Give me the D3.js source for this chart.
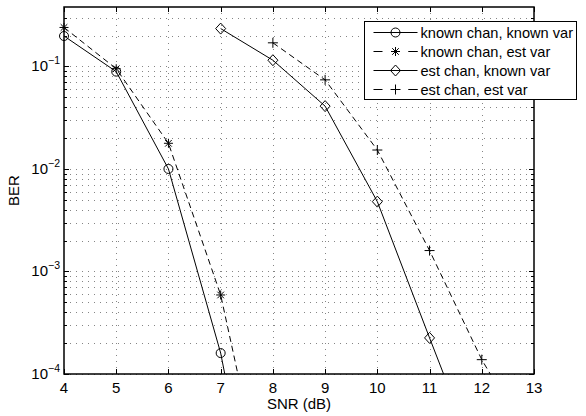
<!DOCTYPE html>
<html>
<head>
<meta charset="utf-8">
<script src="https://cdnjs.cloudflare.com/ajax/libs/d3/7.8.5/d3.min.js"></script>
<style>
  body { margin: 0; background: #fff; }
  svg text { font-family: "Liberation Sans", Arial, sans-serif; fill: #000; }
</style>
</head>
<body>
<div class="chart"></div>
<script>
// BER vs SNR curves
const snrKnown = [4, 5, 6, 7, 8];
const berKnownKnown = [0.198, 0.089, 0.0100, 1.6e-4, 4e-7];
const berKnownEst = [0.24, 0.095, 0.0178, 5.9e-4, 2.7e-6];
const snrEstK = [7, 8, 9, 10, 11, 12];
const berEstKnown = [0.234, 0.115, 0.041, 0.0048, 2.25e-4, 1.1e-5];
const snrEstE = [8, 9, 10, 11, 12, 13];
const berEstEst = [0.17, 0.074, 0.0153, 0.0016, 1.38e-4, 1.9e-5];
const xTicks = [4, 5, 6, 7, 8, 9, 10, 11, 12, 13];
const yDecades = [-4, -3, -2, -1];
const legendLabels = ["known chan, known var", "known chan, est var", "est chan, known var", "est chan, est var"];

const W = 586, H = 416;
const margin = {top: 7, right: 52, bottom: 42, left: 64};
const iw = W - margin.left - margin.right;
const ih = H - margin.top - margin.bottom;

const x = d3.scaleLinear().domain([4, 13]).range([0, iw]);
const y = d3.scaleLog().domain([1e-4, 0.38]).range([ih, 0]);

const svg = d3.select(".chart").append("svg")
    .attr("width", W)
    .attr("height", H);
const g = svg.append("g").attr("transform", `translate(${margin.left},${margin.top})`);

svg.append("defs").append("clipPath").attr("id", "clip")
  .append("rect").attr("width", iw).attr("height", ih);

// grid
const minor = [];
yDecades.forEach(e => { for (let k = 1; k <= 9; k++) { const v = k * Math.pow(10, e); if (v <= 0.38) minor.push(v); } });
const grid = g.append("g").attr("stroke", "#777").attr("stroke-width", 0.9).attr("stroke-dasharray", "1,5");
grid.selectAll(".gy").data(minor).enter().append("line")
    .attr("x1", 0).attr("x2", iw)
    .attr("y1", d => Math.round(y(d)) + 0.5).attr("y2", d => Math.round(y(d)) + 0.5);
grid.selectAll(".gx").data(xTicks.slice(1, -1)).enter().append("line")
    .attr("y1", 0).attr("y2", ih)
    .attr("x1", d => Math.round(x(d)) + 0.5).attr("x2", d => Math.round(x(d)) + 0.5);

// ticks
const tk = g.append("g").attr("stroke", "#000").attr("stroke-width", 1);
xTicks.forEach(t => {
  const px = Math.round(x(t)) + 0.5;
  tk.append("line").attr("x1", px).attr("x2", px).attr("y1", ih).attr("y2", ih - 5);
  tk.append("line").attr("x1", px).attr("x2", px).attr("y1", 0).attr("y2", 5);
});
minor.forEach(v => {
  const py = Math.round(y(v)) + 0.5;
  const major = yDecades.some(e => Math.abs(v - Math.pow(10, e)) < 1e-12);
  const len = major ? 5 : 3;
  tk.append("line").attr("x1", 0).attr("x2", len).attr("y1", py).attr("y2", py);
  tk.append("line").attr("x1", iw).attr("x2", iw - len).attr("y1", py).attr("y2", py);
});

// box
g.append("rect").attr("width", iw).attr("height", ih)
    .attr("fill", "none").attr("stroke", "#000").attr("stroke-width", 1.5);

// tick labels
g.selectAll(".xl").data(xTicks).enter().append("text")
    .attr("x", d => x(d)).attr("y", ih + 19)
    .attr("text-anchor", "middle").attr("font-size", 15).text(d => d);
yDecades.forEach(e => {
  const t = g.append("text").attr("x", -4).attr("y", y(Math.pow(10, e)) + 5)
      .attr("text-anchor", "end").attr("font-size", 15);
  t.append("tspan").text("10");
  t.append("tspan").attr("dy", -7).attr("font-size", 10.5).text("\u2212" + (-e));
});

// axis titles
g.append("text").attr("x", iw / 2).attr("y", ih + 35)
    .attr("text-anchor", "middle").attr("font-size", 15).text("SNR (dB)");
g.append("text").attr("transform", `translate(${-45},${ih / 2}) rotate(-90)`)
    .attr("text-anchor", "middle").attr("font-size", 15).text("BER");

// series
const series = [
  {xs: snrKnown, ys: berKnownKnown, dash: null, marker: "circle"},
  {xs: snrKnown, ys: berKnownEst, dash: "6,4", marker: "star"},
  {xs: snrEstK, ys: berEstKnown, dash: null, marker: "diamond"},
  {xs: snrEstE, ys: berEstEst, dash: "6,4", marker: "plus"}
];

function drawMarker(sel, type, cx, cy) {
  const m = sel.append("g").attr("transform", `translate(${cx},${cy})`)
      .attr("fill", "none").attr("stroke", "#000").attr("stroke-width", 1);
  if (type === "circle") m.append("circle").attr("r", 4.5);
  if (type === "diamond") m.append("path").attr("d", "M0,-5.5L5,0L0,5.5L-5,0Z");
  if (type === "plus") m.append("path").attr("d", "M-5,0H5M0,-5V5");
  if (type === "star") m.append("path").attr("d", "M-4.5,0H4.5M0,-4.5V4.5M-3.3,-3.3L3.3,3.3M-3.3,3.3L3.3,-3.3");
}

const line = d3.line().x(d => x(d[0])).y(d => y(d[1]));
const plot = g.append("g").attr("clip-path", "url(#clip)");
series.forEach(s => {
  const pts = s.xs.map((v, i) => [v, s.ys[i]]);
  plot.append("path").attr("d", line(pts))
      .attr("fill", "none").attr("stroke", "#000").attr("stroke-width", 1)
      .attr("stroke-dasharray", s.dash);
  pts.filter(p => p[1] >= 1e-4).forEach(p => drawMarker(g, s.marker, x(p[0]), y(p[1])));
});

// legend (sticks out past the right axis, as in the original)
const lg = svg.append("g").attr("transform", "translate(364.5,21.5)");
lg.append("rect").attr("width", 212).attr("height", 78)
    .attr("fill", "#fff").attr("stroke", "#000").attr("stroke-width", 1);
legendLabels.forEach((lab, i) => {
  const ly = 11 + i * 19;
  lg.append("line").attr("x1", 9).attr("x2", 53).attr("y1", ly).attr("y2", ly)
      .attr("stroke", "#000").attr("stroke-width", 1)
      .attr("stroke-dasharray", series[i].dash ? "9,26" : null)
      .attr("stroke-dashoffset", series[i].dash ? 0 : null);
  if (series[i].dash) {
    lg.append("line").attr("x1", 44).attr("x2", 53).attr("y1", ly).attr("y2", ly)
        .attr("stroke", "#000").attr("stroke-width", 1);
  }
  drawMarker(lg, series[i].marker, 31, ly);
  lg.append("text").attr("x", 56).attr("y", ly + 5).attr("font-size", 14.6).text(lab);
});
</script>
</body>
</html>
